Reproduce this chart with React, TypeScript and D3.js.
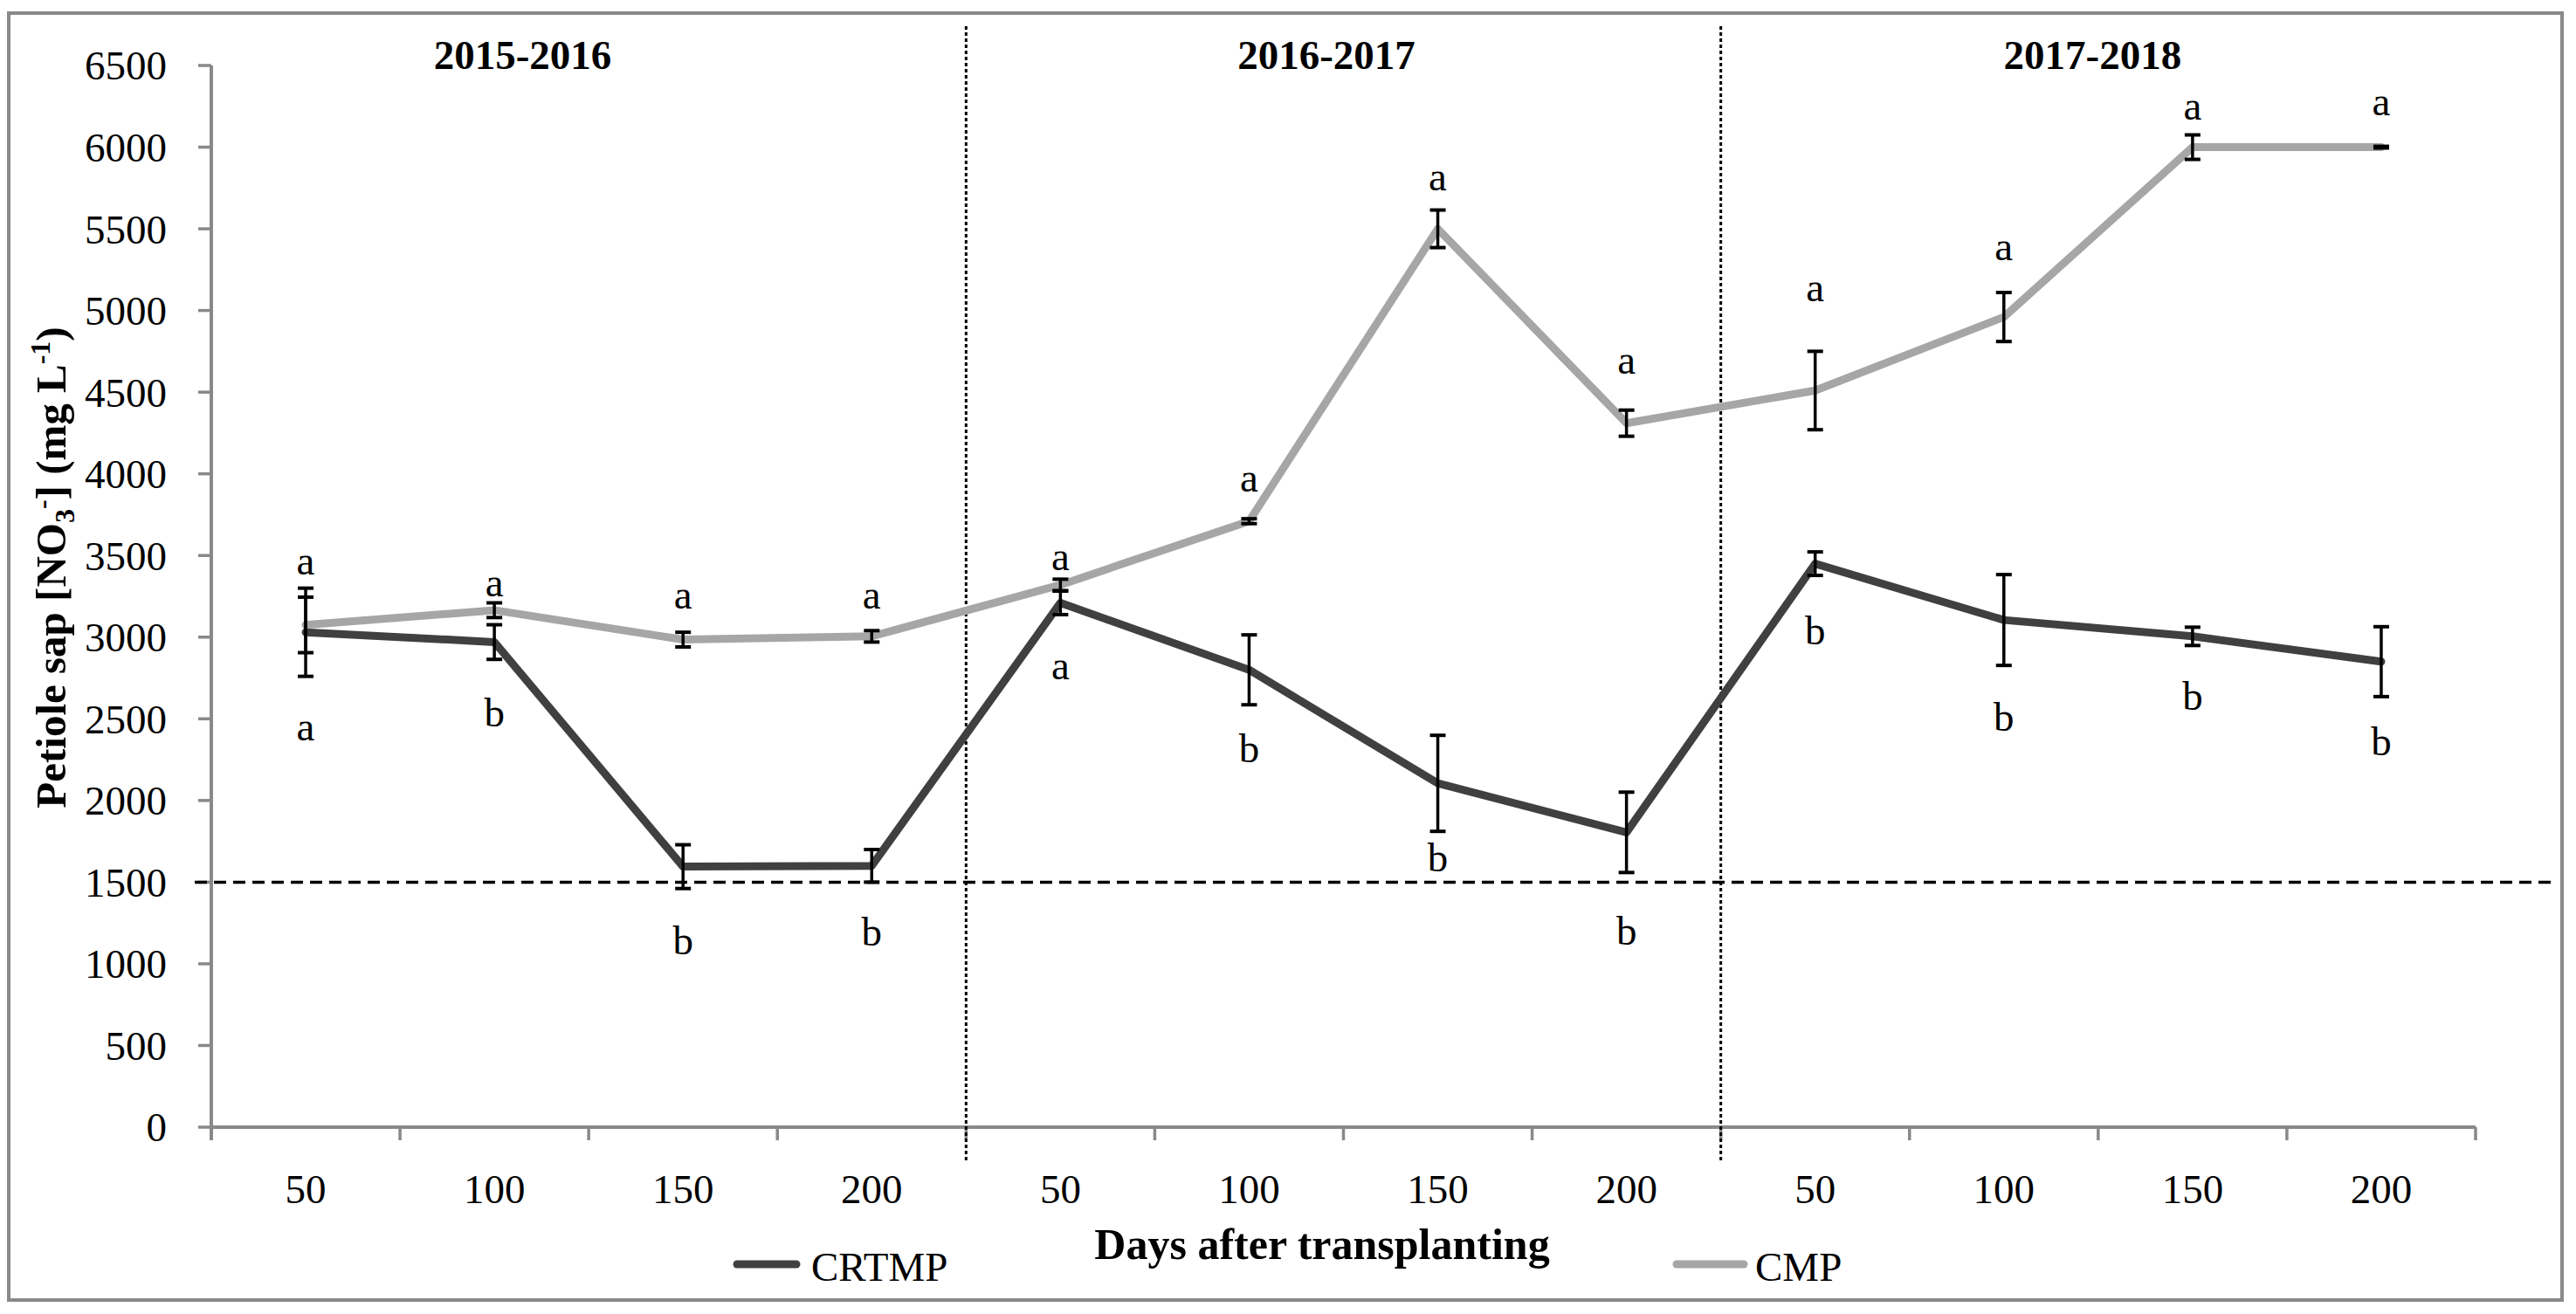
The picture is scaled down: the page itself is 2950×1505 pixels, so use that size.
import * as React from 'react';
import * as d3 from 'd3';

// x categories: days after transplanting, three seasons of four dates
const days = ['50', '100', '150', '200', '50', '100', '150', '200', '50', '100', '150', '200'];
const seasons = ['2015-2016', '2016-2017', '2017-2018'];

// petiole sap NO3- (mg L-1), means and error bars
const crtmp = [3030, 2970, 1595, 1600, 3210, 2800, 2105, 1805, 3450, 3105, 3005, 2850];
const crtmpErr = [270, 106, 134, 100, 72, 214, 294, 246, 72, 278, 56, 214];
const cmp = [3075, 3165, 2985, 3005, 3320, 3710, 5500, 4310, 4510, 4960, 6000, 6000];
const cmpErr = [170, 45, 45, 35, 35, 15, 115, 80, 240, 150, 75, 5];

// significance letters and where they sit (mg L-1)
const cmpLetters = ['a', 'a', 'a', 'a', 'a', 'a', 'a', 'a', 'a', 'a', 'a', 'a'];
const cmpLetterAt = [3384, 3250, 3175, 3175, 3410, 3891, 5736, 4613, 5057, 5308, 6168, 6195];
const crtmpLetters = ['a', 'b', 'b', 'b', 'a', 'b', 'b', 'b', 'b', 'b', 'b', 'b'];
const crtmpLetterAt = [2368, 2453, 1058, 1112, 2742, 2234, 1566, 1117, 2956, 2427, 2555, 2277];

const yTicks = [0, 500, 1000, 1500, 2000, 2500, 3000, 3500, 4000, 4500, 5000, 5500, 6000, 6500];
const threshold = 1500;

const W = 2950;
const H = 1505;
const plot = { left: 242, right: 2835, top: 75, bottom: 1291 };
const seasonTitleAt = [1.65, 5.91, 9.97]; // in category units
const serif = '"Liberation Serif", "Times New Roman", serif';
const axisGrey = '#898989';
const darkLine = '#404040';
const lightLine = '#a6a6a6';

export default function App() {
    const x = d3.scaleBand<number>()
        .domain(d3.range(days.length))
        .range([plot.left, plot.right]);
    const xc = (i: number) => (x(i) ?? 0) + x.bandwidth() / 2;
    const xUnit = d3.scaleLinear().domain([0, days.length]).range([plot.left, plot.right]);

    const y = d3.scaleLinear().domain([0, 6500]).range([plot.bottom, plot.top]);

    const line = d3.line<number>()
        .x((_, i) => xc(i))
        .y(d => y(d));

    const errorBars = (vals: number[], errs: number[], key: string) =>
        vals.map((v, i) => {
            const cx = xc(i);
            const hi = y(v + errs[i]);
            const lo = y(v - errs[i]);
            return (
                <g key={key + i} stroke="#000">
                    <line x1={cx} x2={cx} y1={hi} y2={lo} strokeWidth={3.5} />
                    <line x1={cx - 9} x2={cx + 9} y1={hi} y2={hi} strokeWidth={4} />
                    <line x1={cx - 9} x2={cx + 9} y1={lo} y2={lo} strokeWidth={4} />
                </g>
            );
        });

    const letters = (ls: string[], at: number[], key: string) =>
        ls.map((l, i) => (
            <text key={key + i} x={xc(i)} y={y(at[i])} textAnchor="middle"
                fontSize={47} fontFamily={serif} fill="#000">{l}</text>
        ));

    const boundaries = d3.range(days.length + 1).map(i => xUnit(i));

    return (
        <svg width={W} height={H} style={{ position: 'absolute', left: 0, top: 0, background: '#fff' }}>
            <rect x={0} y={0} width={W} height={H} fill="#fff" />
            <rect x={10} y={15} width={2924} height={1474} fill="none" stroke={axisGrey} strokeWidth={4} />

            {/* y axis */}
            <line x1={plot.left} x2={plot.left} y1={plot.top} y2={plot.bottom + 15} stroke={axisGrey} strokeWidth={4} />
            {yTicks.map(t => (
                <g key={'yt' + t}>
                    <line x1={plot.left - 15} x2={plot.left} y1={y(t)} y2={y(t)} stroke={axisGrey} strokeWidth={3.5} />
                    <text x={191} y={y(t)} dy="0.35em" textAnchor="end" fontSize={47} fontFamily={serif}>{t}</text>
                </g>
            ))}

            {/* x axis */}
            <line x1={plot.left} x2={plot.right} y1={plot.bottom} y2={plot.bottom} stroke={axisGrey} strokeWidth={4} />
            {boundaries.map((bx, i) => (
                <line key={'xt' + i} x1={bx} x2={bx} y1={plot.bottom} y2={plot.bottom + 15} stroke={axisGrey} strokeWidth={3.5} />
            ))}
            {days.map((d, i) => (
                <text key={'xl' + i} x={xc(i)} y={1378} textAnchor="middle" fontSize={47} fontFamily={serif}>{d}</text>
            ))}

            {/* season separators */}
            {[4, 8].map(i => (
                <line key={'sep' + i} x1={xUnit(i)} x2={xUnit(i)} y1={30} y2={1331}
                    stroke="#000" strokeWidth={3} strokeDasharray="4,3" />
            ))}
            {seasons.map((s, i) => (
                <text key={'season' + i} x={xUnit(seasonTitleAt[i])} y={79} textAnchor="middle"
                    fontSize={47} fontWeight="bold" fontFamily={serif}>{s}</text>
            ))}

            {/* threshold */}
            <line x1={223} x2={2929} y1={y(threshold)} y2={y(threshold)} stroke="#000" strokeWidth={3.5} strokeDasharray="14,8" />

            {/* series */}
            <path d={line(crtmp) ?? ''} fill="none" stroke={darkLine} strokeWidth={9} strokeLinejoin="round" strokeLinecap="round" />
            <path d={line(cmp) ?? ''} fill="none" stroke={lightLine} strokeWidth={9} strokeLinejoin="round" strokeLinecap="round" />
            {errorBars(crtmp, crtmpErr, 'ec')}
            {errorBars(cmp, cmpErr, 'em')}
            {letters(cmpLetters, cmpLetterAt, 'lm')}
            {letters(crtmpLetters, crtmpLetterAt, 'lc')}

            {/* axis titles */}
            <text x={1514} y={1442} textAnchor="middle" fontSize={50} fontWeight="bold" fontFamily={serif}>
                Days after transplanting
            </text>
            <text transform="translate(75,650) rotate(-90)" textAnchor="middle" fontSize={49} fontWeight="bold" fontFamily={serif}>
                <tspan>Petiole sap [NO</tspan>
                <tspan fontSize={32} dy={10}>3</tspan>
                <tspan fontSize={32} dy={-26}>-</tspan>
                <tspan dy={16}>] (mg L</tspan>
                <tspan fontSize={32} dy={-18}>-1</tspan>
                <tspan dy={18}>)</tspan>
            </text>

            {/* legend */}
            <line x1={844} x2={912} y1={1448} y2={1448} stroke={darkLine} strokeWidth={9} strokeLinecap="round" />
            <text x={929} y={1467} fontSize={47} fontFamily={serif}>CRTMP</text>
            <line x1={1920} x2={1997} y1={1448} y2={1448} stroke={lightLine} strokeWidth={9} strokeLinecap="round" />
            <text x={2010} y={1467} fontSize={47} fontFamily={serif}>CMP</text>
        </svg>
    );
}
